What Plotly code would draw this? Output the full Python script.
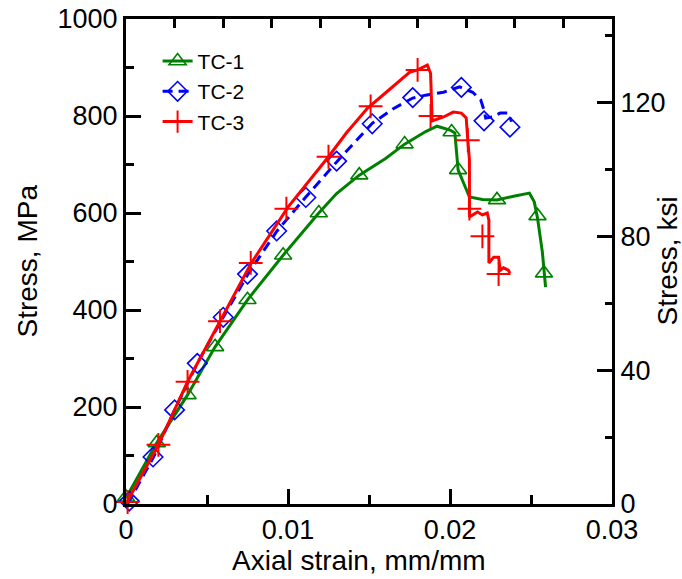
import plotly.graph_objects as go

# ---------------- data (strain mm/mm, stress MPa) ----------------
tc1_strain = [0, 0.0019, 0.0038, 0.0055, 0.0075, 0.0097, 0.0119, 0.0130, 0.0144, 0.0160,
              0.0172, 0.0185, 0.0192, 0.0200, 0.0203, 0.0204, 0.0205, 0.0208, 0.0212, 0.0220,
              0.0229, 0.0240, 0.0249, 0.0252, 0.0254, 0.0257, 0.0259]
tc1_stress = [12, 126, 225, 324, 421, 513, 600, 640, 678, 712,
              742, 768, 779, 771, 765, 720, 689, 665, 633, 628,
              627, 635, 641, 623, 590, 520, 447]
tc1_mk_strain = [0.0000, 0.0019, 0.0038, 0.0055, 0.0075, 0.0097, 0.0119, 0.0144, 0.0172,
                 0.0201, 0.0205, 0.0229, 0.0254, 0.0258]
tc1_mk_stress = [14, 126, 225, 324, 421, 513, 600, 678, 742, 767, 689, 627, 594, 476]

tc2_strain = [0.0001, 0.0017, 0.0030, 0.0044, 0.0060, 0.0076, 0.0093, 0.0111, 0.0131, 0.0152,
              0.0165, 0.0177, 0.0185, 0.0196, 0.0206, 0.0214, 0.0219, 0.0221, 0.0222, 0.0226,
              0.0231, 0.0236, 0.0238]
tc2_stress = [0, 97, 194, 290, 385, 478, 562, 633, 709, 785,
              815, 837, 843, 849, 860, 849, 833, 812, 796, 798,
              806, 806, 788]
tc2_mk_strain = [0.0002, 0.00167, 0.0030, 0.0044, 0.0060, 0.0075, 0.0093, 0.0111, 0.0130,
                 0.0152, 0.0177, 0.0207, 0.0221, 0.0237]
tc2_mk_stress = [6, 97, 194, 290, 385, 474, 563, 632, 707, 784, 838, 859, 790, 777]

tc3_strain = [0, 0.0020, 0.0038, 0.0058, 0.0077, 0.0100, 0.0125, 0.0136, 0.0149, 0.0161,
              0.0168, 0.0175, 0.0180, 0.0186, 0.0188, 0.01885, 0.0189, 0.0196, 0.0202, 0.0207,
              0.0210, 0.0211, 0.0212, 0.0212, 0.0217, 0.0220, 0.0223, 0.0224, 0.0224, 0.0227,
              0.0230, 0.0231, 0.0233, 0.0236, 0.0237]
tc3_stress = [0, 122, 252, 377, 495, 612, 716, 765, 816, 850,
              870, 890, 895, 905, 888, 847, 790, 798, 808, 806,
              796, 750, 709, 592, 602, 596, 600, 585, 497, 509,
              509, 482, 487, 482, 476]
tc3_mk_strain = [0.0001, 0.0020, 0.0038, 0.0058, 0.0077, 0.0099, 0.0125, 0.0151, 0.0180,
                 0.0188, 0.0211, 0.0212, 0.0220, 0.0230]
tc3_mk_stress = [4, 122, 252, 377, 497, 609, 716, 820, 895, 800, 750, 609, 552, 474]

series_names = ["TC-1", "TC-2", "TC-3"]
MPA_PER_KSI = 6.894757

GREEN = "#008000"
BLUE = "#0000FF"
RED = "#FF0000"
FONT = "Liberation Sans, Arial, sans-serif"

styles = [
    dict(color=GREEN, dash="solid", symbol="triangle-up-open", size=15, mlw=1.6),
    dict(color=BLUE, dash="10px,6px", symbol="diamond-open", size=15, mlw=1.6),
    dict(color=RED, dash="solid", symbol="cross-thin-open", size=17, mlw=2),
]
lines = [(tc1_strain, tc1_stress), (tc2_strain, tc2_stress), (tc3_strain, tc3_stress)]
marks = [(tc1_mk_strain, tc1_mk_stress), (tc2_mk_strain, tc2_mk_stress), (tc3_mk_strain, tc3_mk_stress)]

fig = go.Figure()
for name, st, (lx, ly), (mx, my) in zip(series_names, styles, lines, marks):
    fig.add_trace(go.Scatter(x=lx, y=ly, mode="lines", showlegend=False, cliponaxis=False,
                             line=dict(color=st["color"], width=3, dash=st["dash"])))
    fig.add_trace(go.Scatter(x=mx, y=my, mode="markers", showlegend=False, cliponaxis=False,
                             marker=dict(symbol=st["symbol"], size=st["size"], color=st["color"],
                                         line=dict(color=st["color"], width=st["mlw"]))))
for name, st in zip(series_names, styles):
    fig.add_trace(go.Scatter(x=[None], y=[None], mode="lines+markers", name=name,
                             line=dict(color=st["color"], width=3, dash=st["dash"]),
                             marker=dict(symbol=st["symbol"], size=st["size"], color=st["color"],
                                         line=dict(color=st["color"], width=st["mlw"]))))
# helper trace so the secondary (top / right) axes are drawn
fig.add_trace(go.Scatter(x=[None], y=[None], xaxis="x2", yaxis="y2", showlegend=False))

axis_common = dict(showline=True, linewidth=3, linecolor="black", showgrid=False, zeroline=False,
                   automargin=False, ticks="inside", tickcolor="black", tickwidth=2.5,
                   ticklabeloverflow="allow",
                   tickfont=dict(family=FONT, size=27, color="black"))

fig.update_layout(
    template="none",
    width=682, height=579,
    margin=dict(l=126, r=70, t=19, b=75, autoexpand=False),
    paper_bgcolor="white", plot_bgcolor="white",
    font=dict(family=FONT, color="black"),
    xaxis=dict(range=[0, 0.03], tick0=0, dtick=0.01, ticklen=15,
               minor=dict(dtick=0.005, ticklen=9, ticks="inside", tickcolor="black", tickwidth=2.5),
               **axis_common),
    yaxis=dict(range=[0, 1000], tick0=0, dtick=200, ticklen=15,
               minor=dict(dtick=100, ticklen=8, ticks="inside", tickcolor="black", tickwidth=2.5),
               **axis_common),
    xaxis2=dict(range=[0, 0.03], overlaying="x", side="top", anchor="y", tick0=0, dtick=0.003,
                ticklen=9, showticklabels=False, **axis_common),
    yaxis2=dict(range=[0, 1000 / MPA_PER_KSI], overlaying="y", side="right", anchor="x",
                tick0=0, dtick=40, ticklen=15,
                minor=dict(dtick=20, ticklen=7, ticks="inside", tickcolor="black", tickwidth=2.5),
                **axis_common),
    legend=dict(x=0.065, y=0.955, xanchor="left", yanchor="top", bgcolor="rgba(0,0,0,0)",
                font=dict(family=FONT, size=21, color="black"), tracegroupgap=0),
    annotations=[
        dict(text="Axial strain, mm/mm", xref="paper", yref="paper", x=0.4794, y=-0.1169,
             xanchor="center", yanchor="middle", showarrow=False,
             font=dict(family=FONT, size=28, color="black")),
        dict(text="Stress, MPa", xref="paper", yref="paper", x=-0.2037, y=0.5,
             xanchor="center", yanchor="middle", showarrow=False, textangle=-90,
             font=dict(family=FONT, size=28, color="black")),
        dict(text="Stress, ksi", xref="paper", yref="paper", x=1.1132, y=0.5,
             xanchor="center", yanchor="middle", showarrow=False, textangle=-90,
             font=dict(family=FONT, size=28, color="black")),
    ],
)

# remove the default 8px page margin so the figure fills the window exactly
fig.write_html("out.html", config={"displayModeBar": False},
               post_script="document.body.style.margin='0';")
